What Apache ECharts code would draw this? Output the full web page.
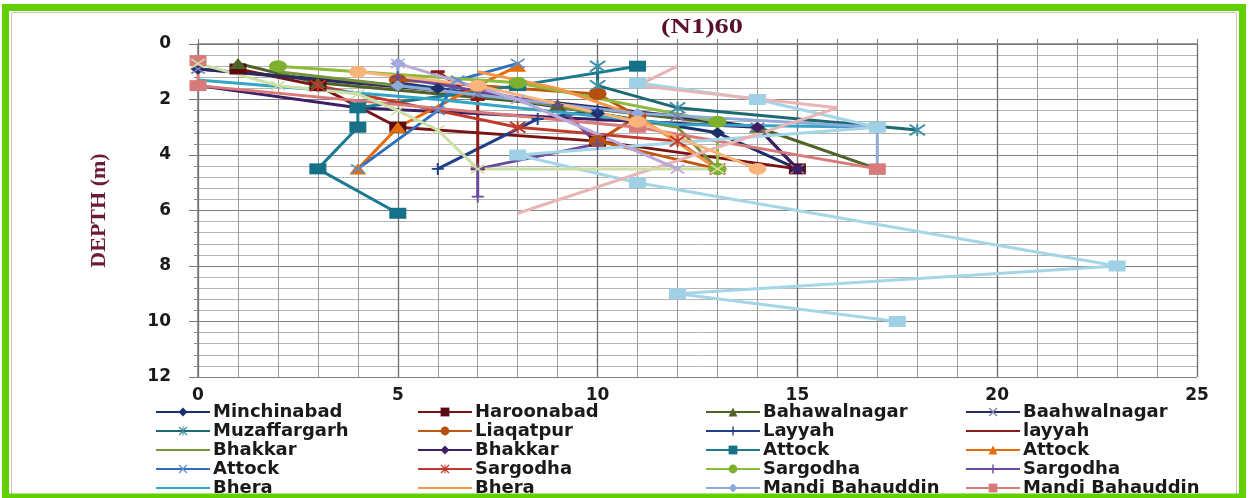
<!DOCTYPE html>
<html>
<head>
<meta charset="utf-8">
<script src="https://cdn.jsdelivr.net/npm/echarts@6/dist/echarts.min.js"></script>
<style>
  html, body { margin: 0; padding: 0; background: #ffffff; }
  #chart { width: 1249px; height: 498px; }
</style>
</head>
<body>
<div id="chart"></div>
<script>
// SPT corrected blow counts (N1)60 against depth, one line per borehole.
// Each point is [(N1)60, depth in m].
const minchinabad   = [[0, 0.9], [6, 1.6], [10, 2.5], [13, 3.2], [15, 4.5]];
const haroonabad    = [[1, 0.9], [3, 1.5], [5, 3.0], [10, 3.5], [15, 4.5]];
const bahawalnagar  = [[1, 0.7], [3, 1.4], [9, 2.2], [14, 3.0], [17, 4.5]];
const baahwalnagar  = [[0, 0.9], [7, 1.8], [12, 2.6], [14, 3.0], [15, 4.5]];
const muzaffargarh  = [[10, 0.8], [10, 1.5], [12, 2.3], [18, 3.1]];
const liaqatpur     = [[5, 1.3], [10, 1.8], [11, 2.6], [10, 3.5], [13, 4.5]];
const layyahA       = [[5, 1.4], [10, 2.4], [8.5, 2.7], [6, 4.5]];
const layyahB       = [[6, 1.0], [7, 2.0], [7, 4.5]];
const bhakkarA      = [[2, 1.0], [8, 2.0], [12, 3.0], [13, 4.5]];
const bhakkarB      = [[0, 1.5], [4, 2.3], [14, 3.0], [15, 4.5]];
const attockA       = [[11, 0.8], [8, 1.5], [4, 2.3], [4, 3.0], [3, 4.5], [5, 6.1]];
const attockB       = [[8, 0.8], [7, 1.5], [5, 3.0], [4, 4.5]];
const attockC       = [[8, 0.7], [6.5, 1.3], [6, 2.4], [4, 4.5]];
const sargodhaA     = [[3, 1.5], [8, 3.0], [12, 3.5], [13, 4.5]];
const sargodhaB     = [[2, 0.8], [8, 1.4], [13, 2.8], [13, 4.5]];
const sargodhaC     = [[5, 1.2], [9, 2.2], [10, 3.6], [7, 4.5], [7, 5.5]];
const bheraA        = [[0, 1.3], [6, 2.0], [12, 2.9], [17, 3.0]];
const bheraB        = [[7, 1.0], [9, 1.6], [11, 2.6], [13, 4.5]];
const mandiA        = [[5, 0.7], [5, 1.5], [11, 2.5], [17, 3.0], [17, 4.5]];
const mandiB        = [[0, 0.6], [0, 1.5], [11, 3.0], [17, 4.5]];
// further boreholes drawn without a legend entry
const extraA        = [[11, 1.4], [14, 2.0], [17, 3.0], [8, 4.0], [11, 5.0], [23, 8.0], [12, 9.0], [17.5, 10.0]];
const extraB        = [[12, 0.8], [11, 1.5], [16, 2.3], [8, 6.1]];
const extraC        = [[0, 0.7], [2, 1.5], [4, 1.8], [5, 2.4], [6, 3.1], [7, 4.5], [13, 4.5]];
const extraD        = [[4, 1.0], [7, 1.5], [11, 2.8], [14, 4.5]];
const extraE        = [[5, 0.7], [8, 2.0], [12, 4.5]];

const xTicks = { min: 0, max: 25, step: 5 };
const yTicks = { min: 0, max: 12, step: 2 };

// marker shapes
const SYM = {
  diamond: 'diamond',
  square: 'rect',
  triangle: 'triangle',
  circle: 'circle',
  cross: 'path://M0,1 L1,0 L5,4 L9,0 L10,1 L6,5 L10,9 L9,10 L5,6 L1,10 L0,9 L4,5 Z',
  star: 'path://M0,1 L1,0 L5,4 L9,0 L10,1 L6,5 L10,9 L9,10 L5,6 L1,10 L0,9 L4,5 Z M4.4,0 H5.6 V10 H4.4 Z',
  plus: 'path://M4.2,0 H5.8 V4.2 H10 V5.8 H5.8 V10 H4.2 V5.8 H0 V4.2 H4.2 Z',
  dash: 'path://M0,3 H10 V7 H0 Z',
  none: 'none'
};
const SIZE = {
  diamond: [15, 11], square: [17, 11], triangle: [17, 11], circle: [18, 12],
  cross: [15, 10], star: [17, 12], plus: [12, 12], dash: [14, 3], none: 0
};

const boreholes = [
  { name: 'Minchinabad',       data: minchinabad,  color: '#1c2f6b', marker: 'diamond' },
  { name: 'Haroonabad',        data: haroonabad,   color: '#7a1414', marker: 'square', mcolor: '#5a0a12' },
  { name: 'Bahawalnagar',      data: bahawalnagar, color: '#4f6228', marker: 'triangle' },
  { name: 'Baahwalnagar',      data: baahwalnagar, color: '#2b2a5c', marker: 'cross', mcolor: '#7e7bb0' },
  { name: 'Muzaffargarh',      data: muzaffargarh, color: '#1d6a73', marker: 'star', mcolor: '#3f8fa6' },
  { name: 'Liaqatpur',         data: liaqatpur,    color: '#c0580e', marker: 'circle', mcolor: '#b5500e' },
  { name: 'Layyah',            data: layyahA,      color: '#1f3f8a', marker: 'plus' },
  { name: 'layyah',            data: layyahB,      color: '#8b1a1a', marker: 'dash' },
  { name: 'Bhakkar#1',         data: bhakkarA,     color: '#77933c', marker: 'none' },
  { name: 'Bhakkar#2',         data: bhakkarB,     color: '#3d1f66', marker: 'diamond' },
  { name: 'Attock#1',          data: attockA,      color: '#1a7a90', marker: 'square', mcolor: '#167088' },
  { name: 'Attock#2',          data: attockB,      color: '#e46c0a', marker: 'triangle' },
  { name: 'Attock#3',          data: attockC,      color: '#2f6fbe', marker: 'cross', mcolor: '#5b8fd0' },
  { name: 'Sargodha#1',        data: sargodhaA,    color: '#c0392b', marker: 'star' },
  { name: 'Sargodha#2',        data: sargodhaB,    color: '#8dbb3a', marker: 'circle', mcolor: '#7cb02e' },
  { name: 'Sargodha#3',        data: sargodhaC,    color: '#6a4a9c', marker: 'plus' },
  { name: 'Bhera#1',           data: bheraA,       color: '#34a6c5', marker: 'none' },
  { name: 'Bhera#2',           data: bheraB,       color: '#f79646', marker: 'none' },
  { name: 'Mandi Bahauddin#1', data: mandiA,       color: '#8eaadb', marker: 'diamond' },
  { name: 'Mandi Bahauddin#2', data: mandiB,       color: '#d97a7a', marker: 'square' },
  { name: 'extra#1',           data: extraA,       color: '#a5d5e8', marker: 'square', mcolor: '#9fd0e6' },
  { name: 'extra#2',           data: extraB,       color: '#e8b4b4', marker: 'none' },
  { name: 'extra#3',           data: extraC,       color: '#cbdfa6', marker: 'cross' },
  { name: 'extra#4',           data: extraD,       color: '#f9b47c', marker: 'circle' },
  { name: 'extra#5',           data: extraE,       color: '#b9a8d8', marker: 'cross' }
];

// legend keys: plain line for series drawn without a marker or with the dash marker
const legendItems = boreholes.slice(0, 20).map(b => (
  (b.marker === 'none' || b.marker === 'dash')
    ? { name: b.name, itemStyle: { opacity: 0 } }
    : { name: b.name }
));
const legendCols = [155, 417, 705, 965];

const legends = legendCols.map((left, c) => ({
  orient: 'vertical',
  left: left,
  top: 403,
  height: 100,
  padding: 0,
  itemGap: 1,
  itemWidth: 54,
  itemHeight: 11,
  selectedMode: false,
  data: legendItems.filter((_, i) => i % 4 === c),
  formatter: name => name.split('#')[0],
  textStyle: {
    fontFamily: 'DejaVu Sans',
    fontWeight: 'bold',
    fontSize: 18,
    lineHeight: 17.5,
    color: '#1a1a1a',
    padding: [0, 0, 0, -2]
  }
}));

const series = boreholes.map(b => ({
  name: b.name,
  type: 'line',
  data: b.data,
  symbol: SYM[b.marker],
  symbolSize: SIZE[b.marker],
  showSymbol: b.marker !== 'none',
  lineStyle: { color: b.color, width: 3 },
  itemStyle: { color: b.mcolor || b.color, borderWidth: 0 },
  emphasis: { disabled: true },
  animation: false
}));

const chart = echarts.init(document.getElementById('chart'), null, { renderer: 'canvas' });

chart.setOption({
  backgroundColor: '#ffffff',
  animation: false,
  graphic: [
    { type: 'rect', shape: { x: 11.5, y: 12.5, width: 1225, height: 482 },
      style: { fill: 'none', stroke: '#c8c8c8', lineWidth: 1 }, z: 99 },
    { type: 'rect', shape: { x: 5.5, y: 7.5, width: 1237, height: 489.5 },
      style: { fill: 'none', stroke: '#62d000', lineWidth: 7 }, z: 100 },
    { type: 'text', x: 702, y: 28, scaleX: 1.35,
      style: { text: '(N1)60', textAlign: 'center', textVerticalAlign: 'middle',
               font: 'bold 21px "Liberation Serif"', fill: '#5a0f2e' }, z: 100 }
  ],
  grid: { left: 198, right: 52, top: 44, bottom: 121, containLabel: false },
  legend: legends,
  xAxis: [
    {
      type: 'value', position: 'bottom',
      min: xTicks.min, max: xTicks.max, interval: xTicks.step,
      axisLine: { show: false },
      axisTick: { show: false },
      axisLabel: { margin: 10, fontFamily: 'DejaVu Sans', fontWeight: 'bold', fontSize: 17, color: '#1a1a1a' },
      splitLine: { show: true, lineStyle: { color: '#6e6e6e', width: 1.3 } },
      minorTick: { show: false, splitNumber: 5 },
      minorSplitLine: { show: true, lineStyle: { color: '#9a9a9a', width: 1 } }
    },
    {
      type: 'value', position: 'top',
      min: xTicks.min, max: xTicks.max, interval: 1,
      axisLine: { show: true, lineStyle: { color: '#7a7a7a', width: 1.5 } },
      axisTick: { show: true, length: 5, lineStyle: { color: '#7a7a7a', width: 1 } },
      axisLabel: { show: false },
      splitLine: { show: false }
    }
  ],
  yAxis: {
    type: 'value', inverse: true,
    min: yTicks.min, max: yTicks.max, interval: yTicks.step,
    name: 'DEPTH (m)', nameLocation: 'middle', nameRotate: 90, nameGap: 88,
    nameTextStyle: { fontFamily: 'Liberation Serif', fontWeight: 'bold', fontSize: 22, color: '#6b1a3a' },
    axisLine: { show: true, lineStyle: { color: '#7a7a7a', width: 1.5 } },
    axisTick: { show: true, length: 9, lineStyle: { color: '#7a7a7a' } },
    minorTick: { show: true, splitNumber: 5, length: 4, lineStyle: { color: '#8a8a8a' } },
    axisLabel: { margin: 27, fontFamily: 'DejaVu Sans', fontWeight: 'bold', fontSize: 17, color: '#1a1a1a' },
    splitLine: { show: true, lineStyle: { color: '#808080', width: 1.2 } },
    minorSplitLine: { show: true, lineStyle: { color: '#b4b4b4', width: 1 } }
  },
  series: series
});
</script>
</body>
</html>
